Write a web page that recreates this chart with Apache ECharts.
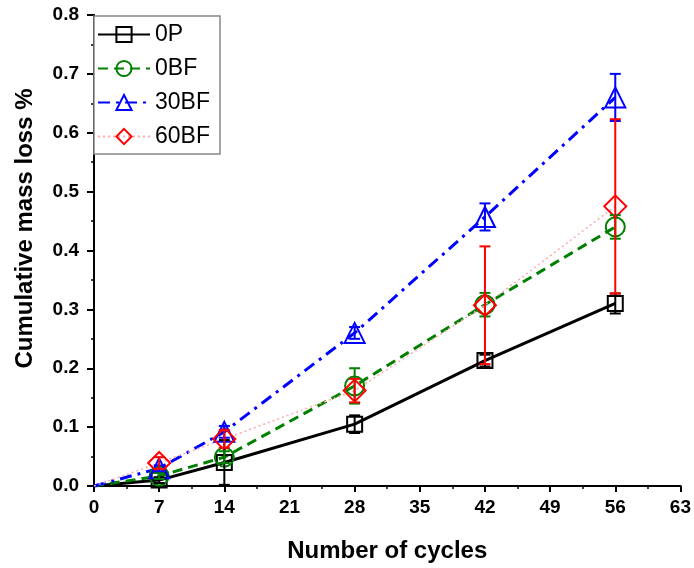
<!DOCTYPE html>
<html>
<head>
<meta charset="UTF-8">
<title>Cumulative mass loss</title>
<script type="text/javascript" src="https://cdn.jsdelivr.net/npm/echarts@6/dist/echarts.min.js"></script>
</head>
<body style="margin:0;">

<div id="box" style="width:694px;height:568px;"></div>

<script type="text/javascript">

// data
var cycles = [7, 14, 28, 42, 56];
var xTicks = [0, 7, 14, 21, 28, 35, 42, 49, 56, 63];

var p0 = [0.010, 0.040, 0.105, 0.213, 0.310];
var p0Err = [0.005, 0.038, 0.015, 0.010, 0.017];

var bf0 = [0.017, 0.049, 0.170, 0.308, 0.440];
var bf0Err = [0.005, 0.010, 0.030, 0.020, 0.020];

var bf30 = [0.030, 0.092, 0.260, 0.457, 0.660];
var bf30Err = [0.005, 0.010, 0.010, 0.023, 0.040];

var bf60 = [0.039, 0.080, 0.162, 0.307, 0.475];
var bf60Err = [0.010, 0.015, 0.020, 0.100, 0.148];

var font = 'Liberation Sans, Arial, sans-serif';

function pairs(ys) {
  var out = [[0, 0]];
  for (var i = 0; i < cycles.length; i++) out.push([cycles[i], ys[i]]);
  return out;
}

function errData(ys, es) {
  var out = [];
  for (var i = 0; i < cycles.length; i++) out.push([cycles[i], ys[i], es[i]]);
  return out;
}

// vertical error bar with caps
function errSeries(name, ys, es, color) {
  return {
    name: name,
    type: 'custom',
    z: 5,
    silent: true,
    data: errData(ys, es),
    renderItem: function (params, api) {
      var x = api.value(0), y = api.value(1), e = api.value(2);
      var hi = api.coord([x, y + e]);
      var lo = api.coord([x, y - e]);
      var w = 5.5;
      var st = { stroke: color, lineWidth: 2 };
      return {
        type: 'group',
        children: [
          { type: 'line', shape: { x1: hi[0], y1: hi[1], x2: lo[0], y2: lo[1] }, style: st },
          { type: 'line', shape: { x1: hi[0] - w, y1: hi[1], x2: hi[0] + w, y2: hi[1] }, style: st },
          { type: 'line', shape: { x1: lo[0] - w, y1: lo[1], x2: lo[0] + w, y2: lo[1] }, style: st }
        ]
      };
    }
  };
}

function lineSeries(name, ys, color, lineColor, lineType, lineWidth, symbol, size) {
  return {
    name: name,
    type: 'line',
    z: 3,
    data: pairs(ys),
    symbol: symbol,
    symbolSize: function (v) { return v[0] === 0 ? 0 : size; },
    showAllSymbol: true,
    lineStyle: { color: lineColor, type: lineType, width: lineWidth },
    itemStyle: { color: 'rgba(255,255,255,0)', borderColor: color, borderWidth: 2 }
  };
}

var mychart = echarts.init(document.getElementById('box'));

var axisLine = { show: true, lineStyle: { color: '#000', width: 2 } };
var labelStyle = { fontSize: 19, fontWeight: 'bold', fontFamily: font, color: '#000' };

var option = {
  animation: false,
  backgroundColor: '#fff',
  grid: { left: 94, right: 11, top: 15, bottom: 79 },
  legend: {
    orient: 'vertical',
    left: 94,
    top: 16,
    padding: [7, 10, 6, 3],
    itemGap: 11,
    itemWidth: 52,
    itemHeight: 19,
    borderColor: '#888',
    borderWidth: 1.5,
    borderRadius: 0,
    backgroundColor: '#fff',
    textStyle: { fontSize: 23, fontFamily: font, color: '#000' },
    data: ['0P', '0BF', '30BF', '60BF']
  },
  xAxis: [{
    type: 'value',
    min: 0, max: 63, interval: 7,
    name: 'Number of cycles',
    nameLocation: 'middle',
    nameGap: 53,
    nameTextStyle: { fontSize: 24, fontWeight: 'bold', fontFamily: font, color: '#000' },
    axisLine: axisLine,
    splitLine: { show: false },
    axisTick: { show: true, inside: false, length: 6, lineStyle: { color: '#000', width: 2 } },
    minorTick: { show: true, splitNumber: 2, length: 3, lineStyle: { color: '#000', width: 1.5 } },
    axisLabel: Object.assign({ margin: 12,
      formatter: function (v) { return xTicks.indexOf(v) >= 0 ? String(v) : ''; } }, labelStyle)
  }, {
    type: 'value', position: 'top',
    min: 0, max: 63, interval: 7,
    axisLine: axisLine,
    axisTick: { show: false }, axisLabel: { show: false }, splitLine: { show: false }
  }],
  yAxis: [{
    type: 'value',
    min: 0, max: 0.8, interval: 0.1,
    name: 'Cumulative mass loss %',
    nameLocation: 'middle',
    nameGap: 57,
    nameTextStyle: { fontSize: 24, fontWeight: 'bold', fontFamily: font, color: '#000',
      padding: [0, 0, 0, 44] },
    axisLine: axisLine,
    splitLine: { show: false },
    axisTick: { show: true, inside: false, length: 7, lineStyle: { color: '#000', width: 2 } },
    minorTick: { show: true, splitNumber: 2, length: 3, lineStyle: { color: '#000', width: 1.5 } },
    axisLabel: Object.assign({ margin: 15,
      formatter: function (v) { return v.toFixed(1); } }, labelStyle)
  }, {
    type: 'value', position: 'right',
    min: 0, max: 0.8, interval: 0.1,
    axisLine: axisLine,
    axisTick: { show: false }, axisLabel: { show: false }, splitLine: { show: false }
  }],
  series: [
    lineSeries('0P', p0, '#000', '#000', 'solid', 3, 'rect', 15),
    lineSeries('0BF', bf0, '#008000', '#008000', [10, 6], 3, 'circle', 19),
    lineSeries('30BF', bf30, '#0000ff', '#0000ff', [12, 6, 3, 6], 3, 'triangle', 20),
    lineSeries('60BF', bf60, '#ff0000', '#ffaaaa', [2, 3], 1.5, 'diamond', 22),
    errSeries('0P', p0, p0Err, '#000'),
    errSeries('0BF', bf0, bf0Err, '#008000'),
    errSeries('30BF', bf30, bf30Err, '#0000ff'),
    errSeries('60BF', bf60, bf60Err, '#ff0000')
  ]
};

mychart.setOption(option);
</script>
</body>
</html>
